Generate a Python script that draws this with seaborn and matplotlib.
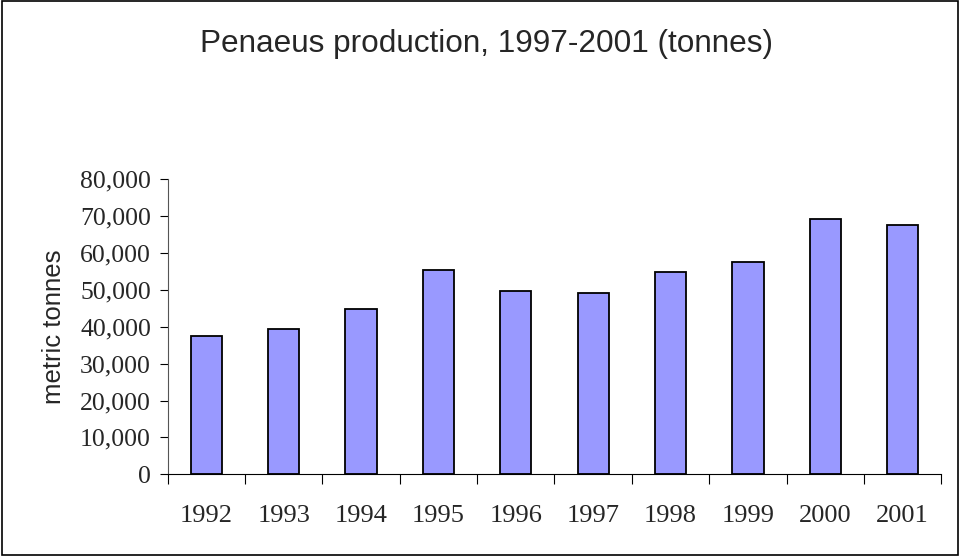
import matplotlib
matplotlib.use("Agg")
import matplotlib.pyplot as plt
import matplotlib.ticker as mticker
from matplotlib.patches import Rectangle
import seaborn as sns
import pandas as pd
import numpy as np

years = ["1992", "1993", "1994", "1995", "1996", "1997", "1998", "1999", "2000", "2001"]
production = [37400, 39300, 44700, 55400, 49700, 49250, 54800, 57500, 69300, 67500]
y_ticks = [0, 10000, 20000, 30000, 40000, 50000, 60000, 70000, 80000]

df = pd.DataFrame({"year": years, "tonnes": production})

sns.set_theme(style="white")
plt.rcParams["font.family"] = ["Liberation Serif", "DejaVu Serif"]

fig = plt.figure(figsize=(9.6, 5.56), dpi=100)
ax = fig.add_axes([0.1747, 0.147, 0.8058, 0.5305])

sns.barplot(data=df, x="year", y="tonnes", ax=ax, color="#9999FF", saturation=1,
            width=0.405, edgecolor="black", linewidth=1.3)

ax.set_xlim(-0.5, len(years) - 0.5)
ax.set_ylim(0, 80000)
ax.set_yticks(y_ticks)
ax.yaxis.set_major_formatter(mticker.FuncFormatter(lambda v, p: f"{int(v):,}"))
ax.tick_params(axis="y", which="major", direction="out", length=6, width=0.8,
               color="black", labelsize=18.5, pad=6, left=True)
ax.set_xticks(np.arange(len(years)))
ax.set_xticklabels(years)
ax.set_xticks(np.arange(len(years) + 1) - 0.5, minor=True)
ax.tick_params(axis="x", which="major", length=0, labelsize=19, pad=22)
ax.tick_params(axis="x", which="minor", direction="out", length=7, width=0.8,
               color="black", bottom=True)

for s in ["top", "right"]:
    ax.spines[s].set_visible(False)
ax.spines["left"].set_color("#555555")
ax.spines["bottom"].set_color("black")
ax.spines["left"].set_linewidth(0.8)
ax.spines["bottom"].set_linewidth(0.8)

ax.set_xlabel("")
ax.set_ylabel("metric tonnes", fontsize=18.5, family=["Liberation Sans", "DejaVu Sans"],
              labelpad=10)

fig.text(0.507, 0.907, "Penaeus production, 1997-2001 (tonnes)", ha="center", va="baseline",
         fontsize=22.7, family=["Liberation Sans", "DejaVu Sans"])

fig.patches.append(Rectangle((0.002, 0.002), 0.996, 0.996, transform=fig.transFigure,
                             fill=False, edgecolor="black", linewidth=1.2))

fig.savefig("out.png", dpi=100)
